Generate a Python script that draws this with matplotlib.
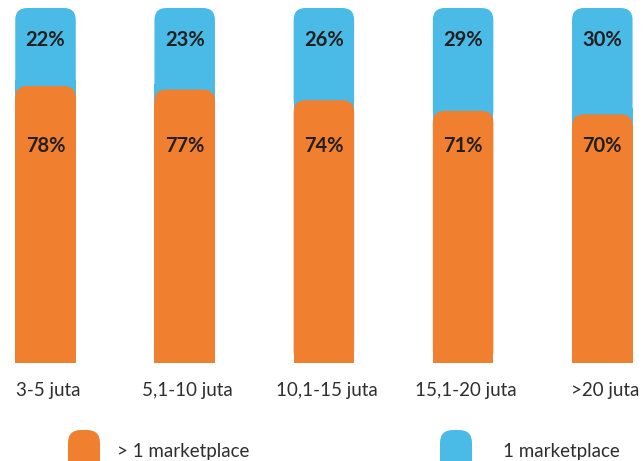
import matplotlib
matplotlib.use("Agg")
import matplotlib.pyplot as plt
from matplotlib.patches import FancyBboxPatch, Rectangle

# data
categories = ["3-5 juta", "5,1-10 juta", "10,1-15 juta", "15,1-20 juta", ">20 juta"]
multi_mp = [78, 77, 74, 71, 70]    # > 1 marketplace
single_mp = [22, 23, 26, 29, 30]   # 1 marketplace

ORANGE = "#F17F30"
BLUE = "#4ABAE6"
TEXT = "#231F20"
plt.rcParams["font.family"] = ["Lato", "DejaVu Sans"]

W, H = 644, 461
fig = plt.figure(figsize=(W / 100, H / 100), dpi=100)

# axes placed in pixel terms: bars from y=362.7 (0%) to y=8 (100%)
step = 139.2
x0 = 45.5
ax = fig.add_axes([0, (H - 362.7) / H, 1, (362.7 - 8) / H])
ax.set_xlim(-x0 / step, (W - x0) / step)
ax.set_ylim(0, 100)
ax.axis("off")

bar_w = 60.5 / step
r_px = 12
rad = r_px / step
aspect = (100 / 354.7) * step  # y units per x unit for equal pixel radius
ry = rad * aspect

for i, (o, b) in enumerate(zip(multi_mp, single_mp)):
    left = i - bar_w / 2
    total = o + b
    # blue segment: rounded top, square bottom tucked under the orange corners
    ax.add_patch(FancyBboxPatch((left, o - ry), bar_w, total - o + ry,
                                boxstyle=f"round,pad=0,rounding_size={rad}",
                                mutation_aspect=aspect, fc=BLUE, ec="none"))
    ax.add_patch(Rectangle((left, o - ry), bar_w, ry * 1.5, fc=BLUE, ec="none"))
    # orange segment: rounded top, square bottom
    ax.add_patch(FancyBboxPatch((left, 0), bar_w, o,
                                boxstyle=f"round,pad=0,rounding_size={rad}",
                                mutation_aspect=aspect, fc=ORANGE, ec="none"))
    ax.add_patch(Rectangle((left, 0), bar_w, o - ry, fc=ORANGE, ec="none"))
    ax.text(i, 91, f"{b}%", ha="center", va="center", fontsize=14.5,
            fontweight="bold", color=TEXT)
    ax.text(i, 61, f"{o}%", ha="center", va="center", fontsize=14.5,
            fontweight="bold", color=TEXT)
    ax.text(i + 0.02, -7.9, categories[i], ha="center", va="center",
            fontsize=13.5, color="#2E2E2E")

# legend drawn in pixel space
lg = fig.add_axes([0, 0, 1, 1], zorder=-1)
lg.set_xlim(0, W)
lg.set_ylim(H, 0)
lg.axis("off")
for px, col, lab, tx in [(68, ORANGE, "> 1 marketplace", 117),
                         (440, BLUE, "1 marketplace", 503)]:
    lg.add_patch(FancyBboxPatch((px, 430), 32, 45,
                                boxstyle="round,pad=0,rounding_size=13",
                                fc=col, ec="none"))
    lg.text(tx, 451, lab, ha="left", va="center", fontsize=13.5,
            color="#2E2E2E")

fig.savefig("out.png", dpi=100)
